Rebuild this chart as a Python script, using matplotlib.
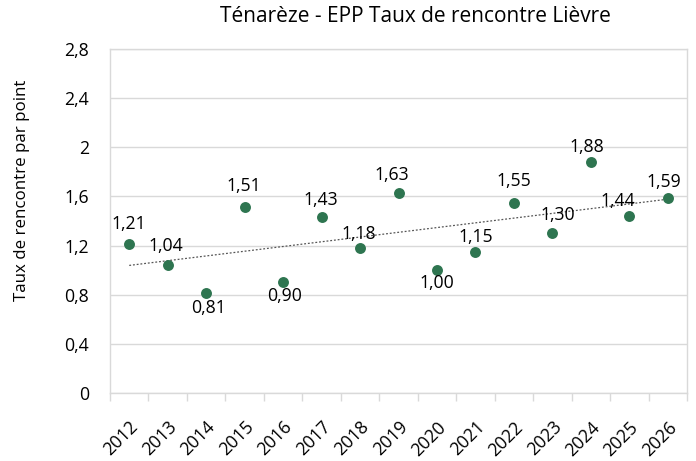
import numpy as np
import matplotlib.pyplot as plt

years = ['2012', '2013', '2014', '2015', '2016', '2017', '2018', '2019',
         '2020', '2021', '2022', '2023', '2024', '2025', '2026']
taux = [1.21, 1.04, 0.81, 1.51, 0.90, 1.43, 1.18, 1.63,
        1.00, 1.15, 1.55, 1.30, 1.88, 1.44, 1.59]
yticks = [0, 0.4, 0.8, 1.2, 1.6, 2.0, 2.4, 2.8]

# decalage des etiquettes (pixels)
offsets = [(0, 20), (-2, 19), (2, -15), (-1, 21), (1, -14), (-1, 17), (-1, 14), (-7, 18),
           (0, -13), (0, 15), (0, 22), (5, 18), (-4, 15), (-11, 15), (-4, 16)]

plt.rcParams['font.family'] = ['Open Sans', 'DejaVu Sans']
fs = 12.7

fig = plt.figure(figsize=(6.96, 4.61), dpi=100)
ax = fig.add_axes([110 / 696, 1 - 393 / 461, 577 / 696, 344 / 461])

x = np.arange(len(years))
ax.scatter(x, taux, s=62, color='#2e7550', zorder=3, linewidths=0)

# courbe de tendance lineaire
a, b = np.polyfit(x, taux, 1)
ax.plot(x, a * x + b, linestyle=(0, (1.5, 1.5)), color='#555555', linewidth=0.9, zorder=2)

for xi, v, (dx, dy) in zip(x, taux, offsets):
    ax.annotate(f'{v:.2f}'.replace('.', ','), (xi, v),
                xytext=(dx * 0.72, dy * 0.72), textcoords='offset points',
                ha='center', va='center', fontsize=fs, color='black', zorder=4)

ax.set_xlim(-0.5, len(years) - 0.5)
ax.set_ylim(0, 2.8)
ax.set_yticks(yticks)
ax.set_yticklabels([f'{t:g}'.replace('.', ',') for t in yticks], fontsize=fs)
ax.yaxis.grid(True, color='#d9d9d9', linewidth=1)
ax.set_axisbelow(True)
ax.tick_params(axis='y', length=0, pad=15)

ax.set_xticks(x)
ax.set_xticklabels(years, rotation=45, ha='right', rotation_mode='anchor', fontsize=fs)
ax.set_xticks(np.arange(-0.5, len(years)), minor=True)
ax.tick_params(axis='x', which='major', length=0, pad=18)
ax.tick_params(axis='x', which='minor', length=6, color='#d9d9d9', width=1)

for s in ax.spines.values():
    s.set_color('#d9d9d9')
    s.set_linewidth(1)

ax.set_ylabel('Taux de rencontre par point', fontsize=12.2)
ax.yaxis.set_label_coords(-0.139, 0.59)
fig.text(415 / 696, 1 - 17 / 461, 'Ténarèze - EPP Taux de rencontre Lièvre',
         ha='center', va='center', fontsize=15)

fig.savefig('out.png', dpi=100)
